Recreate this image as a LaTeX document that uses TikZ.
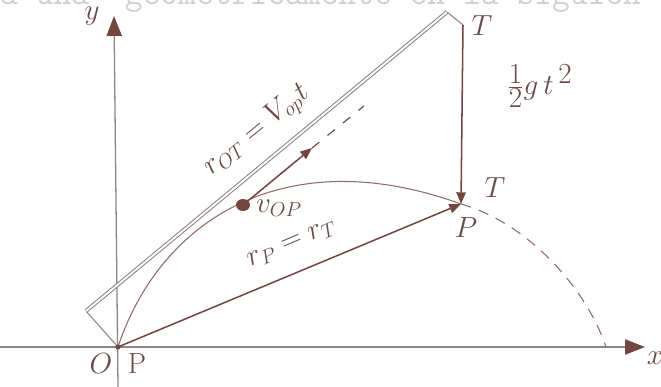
\documentclass[tikz,border=0pt]{standalone}
\usepackage{amsmath}
\usetikzlibrary{arrows.meta}

\definecolor{ink}{HTML}{74463F}
\definecolor{lead}{HTML}{8E8482}
\definecolor{hand}{HTML}{6A4A46}
\definecolor{typed}{HTML}{D0D0D0}

\tikzset{
    axisline/.style={lead, line width=1.1pt, -{Triangle[length=17pt,width=13pt,color=ink]}},
    barrel/.style={lead, line width=0.9pt},
    vec/.style={ink, line width=1.3pt, -{Triangle[length=10pt,width=8pt]}},
    path/.style={ink!80, line width=0.9pt},
    hand/.style={text=hand, inner sep=1pt, font=\fontsize{24}{28}\selectfont},
    bighand/.style={hand, font=\fontsize{36}{40}\selectfont},
    typed/.style={text=typed, inner sep=0pt, font=\fontsize{29.5}{30}\selectfont\ttfamily},
}

\begin{document}
\begin{tikzpicture}[x=0.03cm, y=-0.03cm]
    \useasboundingbox (0,0) rectangle (661,387);
    \clip (0,0) rectangle (661,387);
    \node[typed, anchor=base west] (page) at (0,4) {a una\ \ geométricamente en la siguien};

    \coordinate (O) at (118,347);
    \coordinate (xa) at (0,347);
    \coordinate (xb) at (645,347);
    \coordinate (ya) at (118,387);
    \coordinate (yb) at (114,16);
    \coordinate (T) at (463,25);
    \coordinate (P) at (461,204);
    \coordinate (bk) at (86,311);
    \coordinate (tp) at (447,12);
    \coordinate (v) at (243,205);
    \coordinate (vtip) at (312,148);
    \coordinate (vend) at (364,106);
    \coordinate (land) at (606,347);

    % ejes
    \draw[axisline] (xa) -- (xb);
    \draw[axisline] (ya) -- (yb);

    % linea de mira O -> T
    \draw[barrel] (O) -- (bk);
    \draw[barrel, double, double distance=1.6pt] (bk) -- (tp);
    \draw[barrel] (tp) -- (T);

    % trayectoria
    \draw[path] (O) .. controls (160,220) and (285,140) .. (P);
    \draw[path, dash pattern=on 9pt off 7pt] (P) .. controls (525,222) and (585,285) .. (land);

    % vectores
    \draw[vec] (T) -- (P);
    \draw[vec] (O) -- (P);
    \draw[vec] (v) -- (vtip);
    \draw[ink, line width=1pt, dash pattern=on 8pt off 9pt] (vtip) -- (vend);
    \fill[ink] (v) ellipse (7 and 6);
    \fill[ink] (O) circle (2.5);

    % textos
    \node[hand] (ly) at (92,16) {$y$};
    \node[hand] (lx) at (655,358) {$x$};
    \node[hand] (lO) at (101,364) {$O$};
    \node[hand] (lP0) at (137,364) {$\mathrm{P}$};
    \node[hand] (lT1) at (482,26) {$T$};
    \node[hand] (lT2) at (495,188) {$T$};
    \node[hand] (lP) at (466,228) {$P$};
    \node[bighand] (lg) at (540,86) {$\tfrac{1}{2}g\,t^{\,2}$};
    \node[hand, font=\fontsize{27}{30}\selectfont, rotate=39] (lrot) at (257,131) {$r_{OT}=V_{op}t$};
    \node[hand] (lv) at (279,208) {$v_{OP}$};
    \node[hand, rotate=23] (lrp) at (292,244) {$r_{P}=r_{T}$};
\end{tikzpicture}
\end{document}
